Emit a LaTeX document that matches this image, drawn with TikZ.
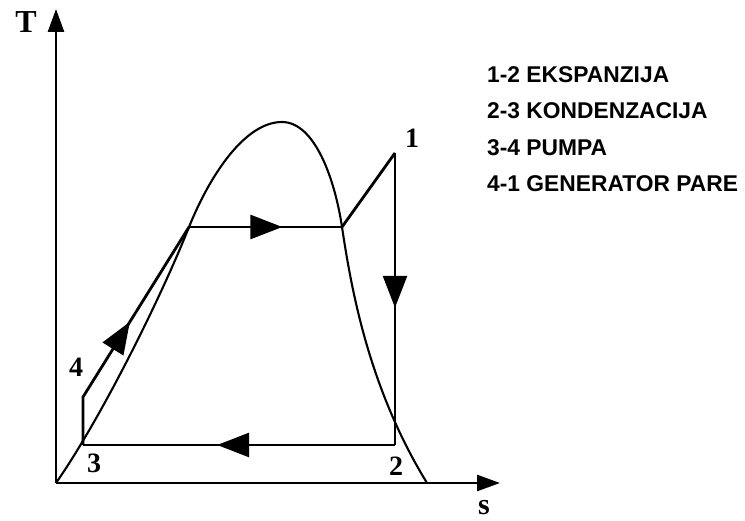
\documentclass[tikz,border=0pt]{standalone}
\usepackage{fontspec}
\setmainfont{Liberation Serif}
\newfontfamily\legendfont{Liberation Sans}[BoldFont={Liberation Sans Bold}]
\usetikzlibrary{arrows.meta,decorations.markings}
\tikzset{
  axis/.style={line width=2.8pt,-{Triangle[length=23pt,width=16pt]}},
  cyc/.style={line width=2.8pt,line join=miter},
  dome/.style={line width=2.1pt},
  midarrow/.style={postaction={decorate},decoration={markings,mark=at position #1 with {\arrow{Triangle[length=32pt,width=24pt]}}}},
  lbl/.style={font=\bfseries\fontsize{28}{28}\selectfont,inner sep=0pt},
  leg/.style={font=\legendfont\bfseries\fontsize{22.8}{22.8}\selectfont,anchor=west,inner sep=0pt}
}
\begin{document}
\begin{tikzpicture}[x=1pt,y=-1pt]
\useasboundingbox (0,0) rectangle (745,521);
\coordinate (O) at (56,483);
\coordinate (Ttip) at (56,9);
\coordinate (Stip) at (500,483);
\coordinate (p3) at (83,445);
\coordinate (p4) at (83,397);
\coordinate (pl) at (189,227);
\coordinate (pv) at (342,227);
\coordinate (p1) at (395,153);
\coordinate (p2) at (395,445);
\coordinate (top) at (282,122);
\coordinate (end) at (427,483);
% dome
\draw[dome] (O) .. controls (100,420) and (160,300) .. (pl)
  .. controls (210,175) and (245,122) .. (top)
  .. controls (315,122) and (335,180) .. (pv)
  .. controls (352,294) and (370,390) .. (end);
% axes
\draw[axis] (O) -- (Ttip);
\draw[axis] (O) -- (Stip);
% cycle
\draw[cyc,midarrow=0.55] (p3) -- (p4) -- (pl);
\draw[cyc,midarrow=0.61] (pl) -- (pv);
\draw[cyc] (pv) -- (p1);
\draw[cyc,midarrow=0.53] (p1) -- (p2);
\draw[cyc,midarrow=0.57] (p2) -- (p3);
% labels
\node[font=\bfseries\fontsize{32}{32}\selectfont,inner sep=0pt] (T) at (26,22) {T};
\node[font=\bfseries\fontsize{30}{30}\selectfont,inner sep=0pt] (s) at (484,508) {s};
\node[lbl] (l1) at (412,138) {1};
\node[lbl] (l2) at (396,466) {2};
\node[lbl] (l3) at (94,463) {3};
\node[lbl] (l4) at (76,367) {4};
% legend
\node[leg] (g1) at (487,75) {1-2 EKSPANZIJA};
\node[leg] (g2) at (487,111) {2-3 KONDENZACIJA};
\node[leg] (g3) at (487,148) {3-4 PUMPA};
\node[leg] (g4) at (487,184) {4-1 GENERATOR PARE};
\end{tikzpicture}
\end{document}
